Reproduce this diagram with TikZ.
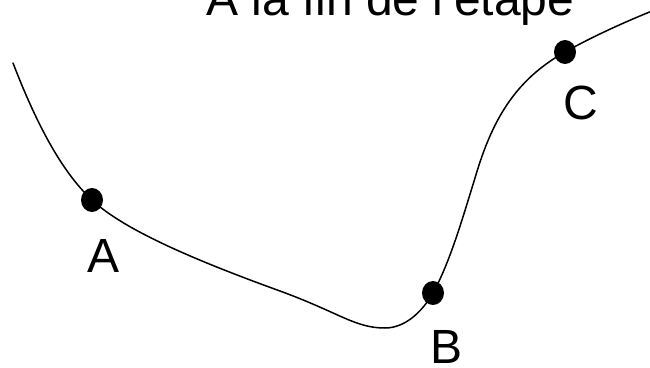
\documentclass[tikz,border=0pt]{standalone}
\usepackage{fontspec}
\setmainfont{Liberation Sans}
\begin{document}
\begin{tikzpicture}[x=1pt,y=-1pt,
  lbl/.style={inner sep=0pt,anchor=base west,font=\fontsize{48}{58}\selectfont},
  dotpt/.style={fill=black,draw=none,ellipse,minimum width=22pt,minimum height=24pt,inner sep=0pt},
  curve/.style={line width=1.5pt,line cap=round}]
\useasboundingbox (0,0) rectangle (650,367);
\clip (0,0) rectangle (650,367);
\node[lbl] (title) at (206,15) {A la fin de l'étape};
\coordinate (s) at (13,63);
\coordinate (e) at (652,11);
\draw[curve] (s) .. controls (35,120) and (60,170) .. (92,200)
  .. controls (125,231) and (200,262) .. (280,291)
  .. controls (340,313) and (355,328) .. (385,328)
  .. controls (405,328) and (422,312) .. (433,293)
  .. controls (450,262) and (462,220) .. (475,178)
  .. controls (492,120) and (515,80) .. (565,52)
  .. controls (590,38) and (620,24) .. (e);
\fill (92,200) ellipse [x radius=11, y radius=12];
\fill (433,293) ellipse [x radius=11, y radius=12];
\fill (565,52) ellipse [x radius=11, y radius=12];
\coordinate (pa) at (92,200);
\coordinate (pb) at (433,293);
\coordinate (pc) at (565,52);
\node[lbl] (la) at (87,272) {A};
\node[lbl] (lb) at (430,363) {B};
\node[lbl] (lc) at (563,119) {C};
\end{tikzpicture}
\end{document}
